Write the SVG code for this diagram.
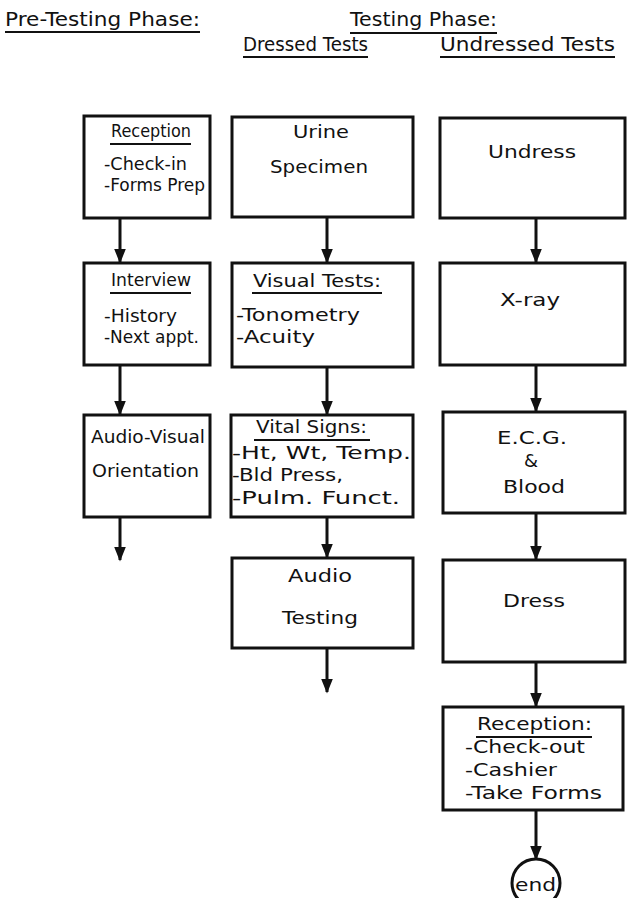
<svg xmlns="http://www.w3.org/2000/svg" width="627" height="898" viewBox="0 0 627 898">
<defs>
<style>
text{font-family:"DejaVu Sans","Liberation Sans",sans-serif;fill:#111;font-size:18px}
.h{font-size:20px}
.box{fill:#fff;stroke:#111;stroke-width:3}
.ul{stroke:#111;stroke-width:2;fill:none}
.ln{stroke:#111;stroke-width:3;fill:none;marker-end:url(#ah)}
</style>
<marker id="ah" markerWidth="5" markerHeight="4" refX="4.5" refY="2" orient="auto" markerUnits="strokeWidth">
<path d="M0,0 L5,2 L0,4 Z" fill="#111"/>
</marker>
</defs>
<rect width="627" height="898" fill="#fff"/>
<g id="headers">
<text class="h" x="5" y="26" textLength="195" lengthAdjust="spacingAndGlyphs">Pre-Testing Phase:</text>
<line class="ul" x1="5" y1="32" x2="200" y2="32"/>
<text class="h" x="350" y="26" textLength="147" lengthAdjust="spacingAndGlyphs">Testing Phase:</text>
<line class="ul" x1="350" y1="33" x2="497" y2="33"/>
<text class="h" x="243" y="51" textLength="125" lengthAdjust="spacingAndGlyphs">Dressed Tests</text>
<line class="ul" x1="243" y1="57" x2="368" y2="57"/>
<text class="h" x="440" y="51" textLength="175" lengthAdjust="spacingAndGlyphs">Undressed Tests</text>
<line class="ul" x1="440" y1="57" x2="615" y2="57"/>
</g>
<g id="connectors">
<line class="ln" x1="120" y1="218" x2="120" y2="262"/>
<line class="ln" x1="120" y1="365" x2="120" y2="414"/>
<line class="ln" x1="120" y1="517" x2="120" y2="560"/>
<line class="ln" x1="327" y1="217" x2="327" y2="262"/>
<line class="ln" x1="327" y1="367" x2="327" y2="414"/>
<line class="ln" x1="327" y1="517" x2="327" y2="557"/>
<line class="ln" x1="327" y1="648" x2="327" y2="692"/>
<line class="ln" x1="536" y1="218" x2="536" y2="262"/>
<line class="ln" x1="536" y1="365" x2="536" y2="411"/>
<line class="ln" x1="536" y1="513" x2="536" y2="559"/>
<line class="ln" x1="536" y1="662" x2="536" y2="706"/>
<line class="ln" x1="536" y1="810" x2="536" y2="859"/>
</g>
<g id="reception1">
<rect class="box" x="84" y="116" width="126" height="102"/>
<text x="111" y="137" textLength="80" lengthAdjust="spacingAndGlyphs">Reception</text>
<line class="ul" x1="110" y1="144" x2="191" y2="144"/>
<text x="104" y="170" textLength="83" lengthAdjust="spacingAndGlyphs">-Check-in</text>
<text x="104" y="191" textLength="101" lengthAdjust="spacingAndGlyphs">-Forms Prep</text>
</g>
<g id="interview">
<rect class="box" x="84" y="263" width="126" height="102"/>
<text x="111" y="286" textLength="80" lengthAdjust="spacingAndGlyphs">Interview</text>
<line class="ul" x1="110" y1="293" x2="191" y2="293"/>
<text x="104" y="322" textLength="73" lengthAdjust="spacingAndGlyphs">-History</text>
<text x="104" y="343" textLength="95" lengthAdjust="spacingAndGlyphs">-Next appt.</text>
</g>
<g id="orientation">
<rect class="box" x="84" y="415" width="126" height="102"/>
<text x="91" y="443" textLength="114" lengthAdjust="spacingAndGlyphs">Audio-Visual</text>
<text x="92" y="477" textLength="107" lengthAdjust="spacingAndGlyphs">Orientation</text>
</g>
<g id="urine">
<rect class="box" x="232" y="117" width="181" height="100"/>
<text x="293" y="138" textLength="56" lengthAdjust="spacingAndGlyphs">Urine</text>
<text x="270" y="173" textLength="98" lengthAdjust="spacingAndGlyphs">Specimen</text>
</g>
<g id="visual">
<rect class="box" x="232" y="263" width="181" height="104"/>
<text x="253" y="287" textLength="128" lengthAdjust="spacingAndGlyphs">Visual Tests:</text>
<line class="ul" x1="252" y1="293" x2="382" y2="293"/>
<text x="236" y="321" textLength="124" lengthAdjust="spacingAndGlyphs">-Tonometry</text>
<text x="236" y="343" textLength="79" lengthAdjust="spacingAndGlyphs">-Acuity</text>
</g>
<g id="vital">
<rect class="box" x="231" y="415" width="182" height="102"/>
<text x="256" y="433" textLength="111" lengthAdjust="spacingAndGlyphs">Vital Signs:</text>
<line class="ul" x1="254" y1="440" x2="370" y2="440"/>
<text x="232" y="459" textLength="179" lengthAdjust="spacingAndGlyphs">-Ht, Wt, Temp.</text>
<text x="232" y="481" textLength="111" lengthAdjust="spacingAndGlyphs">-Bld Press,</text>
<text x="232" y="504" textLength="168" lengthAdjust="spacingAndGlyphs">-Pulm. Funct.</text>
</g>
<g id="audio">
<rect class="box" x="232" y="558" width="181" height="90"/>
<text x="288" y="582" textLength="64" lengthAdjust="spacingAndGlyphs">Audio</text>
<text x="282" y="624" textLength="76" lengthAdjust="spacingAndGlyphs">Testing</text>
</g>
<g id="undress">
<rect class="box" x="440" y="118" width="185" height="100"/>
<text x="488" y="158" textLength="88" lengthAdjust="spacingAndGlyphs">Undress</text>
</g>
<g id="xray">
<rect class="box" x="440" y="263" width="185" height="102"/>
<text x="500" y="306" textLength="60" lengthAdjust="spacingAndGlyphs">X-ray</text>
</g>
<g id="ecg">
<rect class="box" x="443" y="412" width="182" height="101"/>
<text x="497" y="444" textLength="70" lengthAdjust="spacingAndGlyphs">E.C.G.</text>
<text x="524" y="467">&amp;</text>
<text x="503" y="493" textLength="62" lengthAdjust="spacingAndGlyphs">Blood</text>
</g>
<g id="dress">
<rect class="box" x="443" y="560" width="182" height="102"/>
<text x="503" y="607" textLength="62" lengthAdjust="spacingAndGlyphs">Dress</text>
</g>
<g id="reception2">
<rect class="box" x="443" y="707" width="180" height="103"/>
<text x="477" y="730" textLength="115" lengthAdjust="spacingAndGlyphs">Reception:</text>
<line class="ul" x1="476" y1="737" x2="592" y2="737"/>
<text x="465" y="753" textLength="120" lengthAdjust="spacingAndGlyphs">-Check-out</text>
<text x="465" y="776" textLength="92" lengthAdjust="spacingAndGlyphs">-Cashier</text>
<text x="465" y="799" textLength="137" lengthAdjust="spacingAndGlyphs">-Take Forms</text>
</g>
<g id="end">
<circle cx="536" cy="883" r="24" fill="#fff" stroke="#111" stroke-width="3"/>
<text x="515" y="891" textLength="41" lengthAdjust="spacingAndGlyphs">end</text>
</g>
</svg>
